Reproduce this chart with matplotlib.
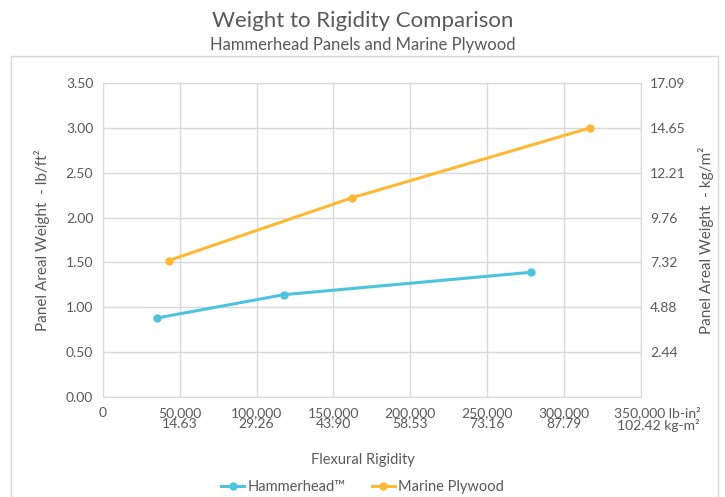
import matplotlib.pyplot as plt
from matplotlib.patches import Rectangle

# data
hh_x = [35000, 117600, 278700]
hh_y = [0.88, 1.14, 1.39]
mp_x = [42700, 162000, 317200]
mp_y = [1.52, 2.22, 3.00]

x_ticks = [0, 50000, 100000, 150000, 200000, 250000, 300000, 350000]
x_labels = ["0", "50,000\n14.63", "100,000\n29.26", "150,000\n43.90", "200,000\n58.53",
            "250,000\n73.16", "300,000\n87.79", ""]
last_label = "350,000 lb-in²\n102.42 kg-m²"
y_ticks = [0, 0.5, 1.0, 1.5, 2.0, 2.5, 3.0, 3.5]
y_labels = ["0.00", "0.50", "1.00", "1.50", "2.00", "2.50", "3.00", "3.50"]
y2_labels = ["", "2.44", "4.88", "7.32", "9.76", "12.21", "14.65", "17.09"]

txt = "#595959"
grid = "#D9D9D9"
c_hh = "#4DC3E0"
c_mp = "#FDB933"

plt.rcParams['font.family'] = ['Lato', 'DejaVu Sans']

fig = plt.figure(figsize=(7.25, 4.97), dpi=100)
fig.patches.append(Rectangle((10.5 / 725, -0.01), 707.5 / 725, 1 - 56 / 497 + 0.01,
                             transform=fig.transFigure, fill=False, ec=grid, lw=1))

ax = fig.add_axes([103 / 725, 1 - 397 / 497, 537.5 / 725, 314 / 497])
ax.plot(hh_x, hh_y, color=c_hh, lw=2.2, marker="o", ms=5, label="Hammerhead™")
ax.plot(mp_x, mp_y, color=c_mp, lw=2.2, marker="o", ms=5, label="Marine Plywood")

ax.set_xlim(0, 350000)
ax.set_ylim(0, 3.5)
ax.set_xticks(x_ticks)
ax.set_xticklabels(x_labels, linespacing=0.95)
ax.set_yticks(y_ticks)
ax.set_yticklabels(y_labels)
ax.grid(True, color=grid, lw=1)
for s in ax.spines.values():
    s.set_color(grid)
ax.tick_params(axis="both", colors=txt, labelsize=10, length=0)
ax.tick_params(axis="x", pad=7)
ax.tick_params(axis="y", pad=7)

ax2 = ax.twinx()
ax2.set_ylim(0, 3.5)
ax2.set_yticks(y_ticks)
ax2.set_yticklabels(y2_labels)
ax2.tick_params(axis="y", colors=txt, labelsize=10, length=0, pad=7)
for s in ax2.spines.values():
    s.set_visible(False)

ax.annotate(last_label, xy=(350000, 0), xycoords="data", xytext=(12.5, -7),
            textcoords="offset points", ha="center", va="top", color=txt,
            fontsize=10, linespacing=0.95)

fig.text(42 / 725, 1 - 240 / 497, "Panel Areal Weight  - lb/ft²", rotation=90,
         ha="center", va="center", color=txt, fontsize=11)
fig.text(706 / 725, 1 - 240 / 497, "Panel Areal Weight  - kg/m²", rotation=90,
         ha="center", va="center", color=txt, fontsize=11)
fig.text(0.5, 1 - 460 / 497, "Flexural Rigidity", ha="center", va="center",
         color=txt, fontsize=10.5)

fig.text(0.5, 1 - 21 / 497, "Weight to Rigidity Comparison", ha="center", va="center",
         color=txt, fontsize=16)
fig.text(0.5, 1 - 45 / 497, "Hammerhead Panels and Marine Plywood", ha="center", va="center",
         color=txt, fontsize=12)

fig.legend(loc="center", bbox_to_anchor=(0.5, 1 - 487 / 497), ncol=2, frameon=False,
           fontsize=10.5, labelcolor=txt, handlelength=1.6, handletextpad=0.2,
           columnspacing=1.8)

fig.savefig("out.png", dpi=100)
